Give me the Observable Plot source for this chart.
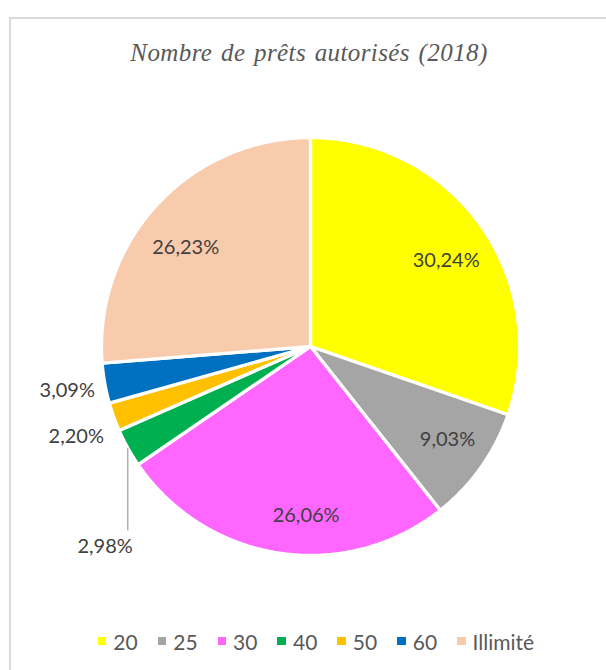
<!DOCTYPE html>
<html>
<head>
<meta charset="utf-8">
<script src="https://cdn.jsdelivr.net/npm/d3@7"></script>
<script src="https://cdn.jsdelivr.net/npm/@observablehq/plot@0.6"></script>
<style>
  html, body { margin: 0; padding: 0; background: #fff; }
  body { width: 606px; height: 670px; overflow: hidden; position: relative; }
  #frame { position: absolute; left: 9px; top: 17px; width: 700px; height: 800px;
           border-left: 2px solid #d9d9d9; border-top: 2px solid #d9d9d9; box-sizing: border-box; }
  #title { position: absolute; top: 39.5px; left: 0; width: 618px; text-align: center;
           font-family: "Liberation Serif", Tinos, "Times New Roman", Times, serif;
           font-style: italic; font-size: 25px; line-height: 25px;
           letter-spacing: 0.4px; word-spacing: 2px; color: #595959; white-space: nowrap; }
  #chart { position: absolute; top: 100px; left: 0; }
  #legend { position: absolute; top: 623.5px; left: 26px; width: 580px; display: flex;
            justify-content: center; font: 21px Lato, sans-serif; color: #595959; line-height: 35px; }
  .it { display: flex; align-items: center; margin: 0 10px; }
  .it i { display: inline-block; width: 8.5px; height: 8.5px; margin-right: 7px; }
</style>
</head>
<body>
<div id="frame"></div>
<div id="title"></div>
<div id="chart"></div>
<div id="legend"></div>
<script>
// ---- data ----
const title = "Nombre de prêts autorisés (2018)";
const categories = ["20", "25", "30", "40", "50", "60", "Illimité"];
const shares = [30.24, 9.03, 26.06, 2.98, 2.20, 3.09, 26.23];
const colors = ["#FFFF00", "#A5A5A5", "#FF66FF", "#00B050", "#FFC000", "#0070C0", "#F8CBAD"];

// ---- layout ----
const W = 606, H = 500;
const R = 209;               // pie radius in px
const cx = 310, cy = 246;    // pie centre in svg px
const px = v => v / R;       // px -> data units

const fmt = v => v.toFixed(2).replace(".", ",") + "%";
const arcs = d3.pie().sort(null).value(d => d)(shares);

// slice polygons
const poly = [];
arcs.forEach((a, i) => {
  const key = categories[i];
  poly.push({key, x: 0, y: 0});
  const n = Math.max(2, Math.ceil((a.endAngle - a.startAngle) / (Math.PI / 360)));
  for (let k = 0; k <= n; k++) {
    const t = a.startAngle + (a.endAngle - a.startAngle) * k / n;
    poly.push({key, x: Math.sin(t), y: -Math.cos(t)});
  }
  poly.push({key, x: 0, y: 0});
});

// label placement (Excel-like: inside for large slices, outside for small)
const nudges = {
  "20": [3, 9], "25": [4, -1], "30": [20, 8], "Illimité": [-5, 12],
  "40": [-22.6, 99], "50": [1.5, 16], "60": [2, 5]
};
const inside = [], outside = [], callout = [], leaders = [];
arcs.forEach((a, i) => {
  const key = categories[i];
  const m = (a.startAngle + a.endAngle) / 2;
  const s = Math.sin(m), c = -Math.cos(m);
  const [nx, ny] = nudges[key];
  const text = fmt(shares[i]);
  if (shares[i] > 5) {
    inside.push({text, x: 0.78 * s + px(nx), y: 0.78 * c + px(ny)});
  } else if (key === "40") {
    const ex = s, ey = c;
    leaders.push({x1: ex, y1: ey, x2: ex, y2: ey + px(82.5)});
    callout.push({text, x: ex + px(nx), y: ey + px(ny)});
  } else {
    const rr = 1 + px(12);
    outside.push({text, x: rr * s + px(nx), y: rr * c + px(ny)});
  }
});

const font = "Lato, sans-serif";
const chart = Plot.plot({
  width: W, height: H,
  margin: 0,
  x: {domain: [-1, 1], range: [cx - R, cx + R], axis: null},
  y: {domain: [-1, 1], range: [cy - R, cy + R], axis: null},
  color: {domain: categories, range: colors},
  style: {background: "transparent", overflow: "visible"},
  marks: [
    Plot.line(poly, {x: "x", y: "y", z: "key", fill: "key", stroke: "white",
                     strokeWidth: 3.3, strokeLinejoin: "round", curve: "linear"}),
    Plot.link(leaders, {x1: "x1", y1: "y1", x2: "x2", y2: "y2", stroke: "#a6a6a6", strokeWidth: 1.3}),
    Plot.text(inside, {x: "x", y: "y", text: "text", fontSize: 20, fontFamily: font, fill: "#404040"}),
    Plot.text(outside, {x: "x", y: "y", text: "text", fontSize: 20, fontFamily: font, fill: "#404040", textAnchor: "end"}),
    Plot.text(callout, {x: "x", y: "y", text: "text", fontSize: 20, fontFamily: font, fill: "#404040"})
  ]
});
document.getElementById("chart").appendChild(chart);
document.getElementById("title").textContent = title;

const legend = document.getElementById("legend");
categories.forEach((c, i) => {
  const it = document.createElement("span");
  it.className = "it";
  const sw = document.createElement("i");
  sw.style.background = colors[i];
  it.appendChild(sw);
  it.appendChild(document.createTextNode(c));
  legend.appendChild(it);
});
</script>
</body>
</html>
